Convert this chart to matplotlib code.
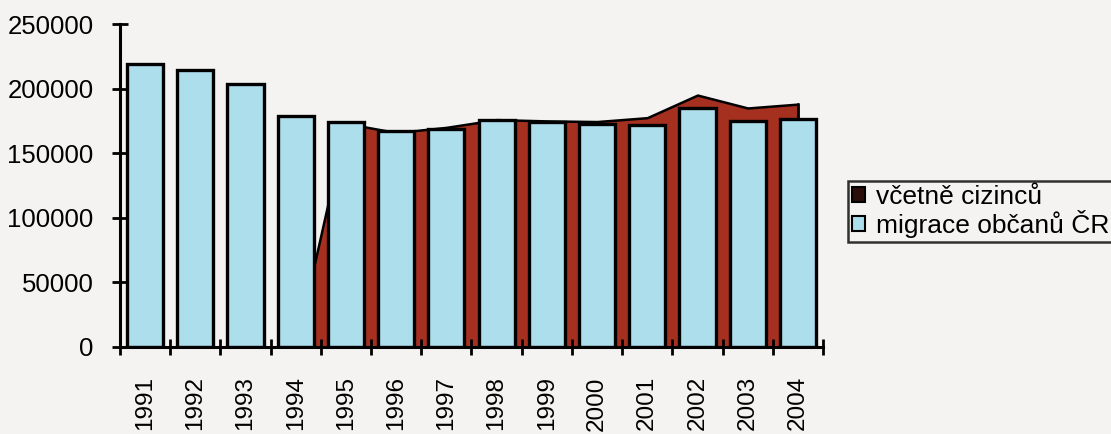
import numpy as np
import matplotlib
matplotlib.use("Agg")
import matplotlib.pyplot as plt
from matplotlib.patches import Patch

plt.rcParams['font.family'] = ['Liberation Sans', 'DejaVu Sans']

years = ['1991', '1992', '1993', '1994', '1995', '1996', '1997',
         '1998', '1999', '2000', '2001', '2002', '2003', '2004']
# migration of Czech citizens only
citizens = [219000, 214500, 203500, 179000, 174500, 167000, 169000,
            175500, 174500, 172500, 172000, 185000, 175000, 176500]
# migration including foreigners (not recorded before 1995)
with_foreigners = [0, 0, 0, 0, 173000, 166000, 170000,
                   176000, 175000, 174500, 177500, 195000, 185000, 188000]

label_incl = 'včetně cizinců'
label_cit = 'migrace občanů ČR'

bg = '#f4f3f1'
blue = '#acdeec'
red = '#a63020'

fig = plt.figure(figsize=(11.11, 4.34), dpi=100, facecolor=bg)
ax = fig.add_axes([120 / 1111, 1 - 347 / 434, 703 / 1111, 323 / 434])
ax.set_facecolor(bg)

x = np.arange(len(years))

# area series behind the columns
ax.fill_between(x, 0, with_foreigners, facecolor=red, edgecolor='black',
                linewidth=1.8, zorder=1)
ax.plot([x[-1], x[-1]], [0, with_foreigners[-1]], color='black', lw=1.8, zorder=1)

ax.bar(x, citizens, width=0.72, color=blue, edgecolor='black',
       linewidth=2.4, zorder=2)

ax.set_xlim(-0.5, len(years) - 0.5)
ax.set_ylim(0, 250000)

for s in ['top', 'right']:
    ax.spines[s].set_visible(False)
for s in ['left', 'bottom']:
    ax.spines[s].set_linewidth(2.2)
    ax.spines[s].set_zorder(3)

ax.set_yticks(np.arange(0, 250001, 50000))
ax.set_yticklabels([str(v) for v in range(0, 250001, 50000)], fontsize=18.5)
ax.tick_params(axis='y', direction='inout', length=12, width=2, pad=13)

# tick marks between categories, labels centred under each column
ax.set_xticks(np.arange(-0.5, len(years), 1.0))
ax.set_xticklabels([])
ax.set_xticks(x, minor=True)
ax.set_xticklabels(years, minor=True, rotation=90, fontsize=17.5)
ax.tick_params(axis='x', which='major', direction='inout', length=12, width=2)
ax.tick_params(axis='x', which='minor', length=0, pad=21)

handles = [Patch(facecolor='#2a0d08', edgecolor='black', linewidth=1.5),
           Patch(facecolor=blue, edgecolor='black', linewidth=1.5)]
leg = fig.legend(handles, [label_incl, label_cit], loc='upper left',
                 bbox_to_anchor=(848 / 1111, 1 - 181 / 434), fontsize=19,
                 frameon=True, fancybox=False, edgecolor='black',
                 handlelength=0.5, handleheight=0.5, handletextpad=0.4,
                 borderpad=0.15, labelspacing=0.05, borderaxespad=0)
leg.get_frame().set_linewidth(1.8)
leg.get_frame().set_facecolor(bg)

fig.savefig('out.png', dpi=100, facecolor=bg)
